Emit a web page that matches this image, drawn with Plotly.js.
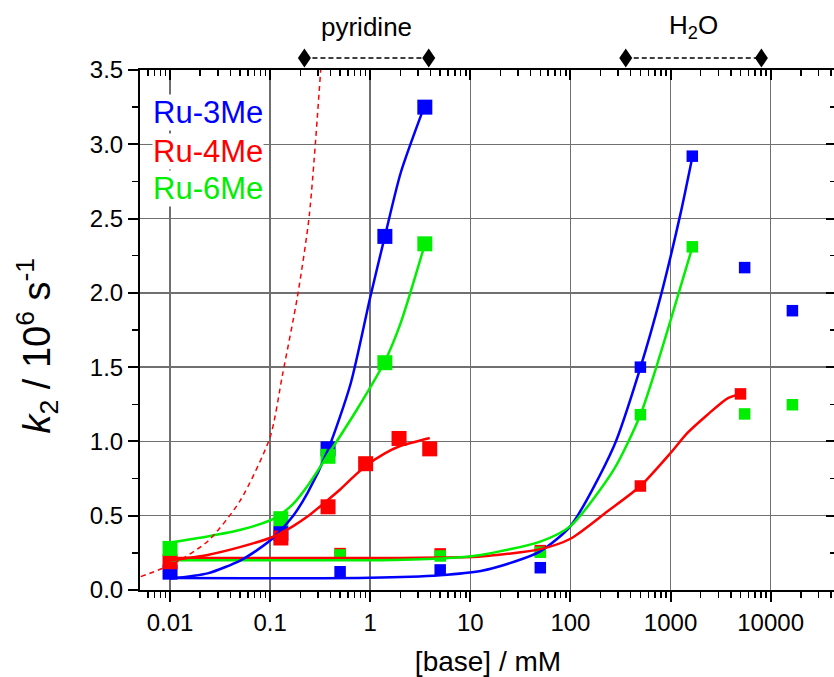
<!DOCTYPE html>
<html><head><meta charset="utf-8">
<script src="https://cdn.plot.ly/plotly-3.0.1.min.js"></script>
<style>html,body{margin:0;padding:0;overflow:hidden;background:#fff}</style>
</head><body><div id="chart" style="width:836px;height:677px"></div>
<script>
// ---------- measured points: pyridine series (large squares) ----------
const pyX3 = [0.01, 0.128, 0.379, 1.40, 3.51];
const pyY3 = [0.12, 0.38, 0.95, 2.38, 3.25];
const pyX4 = [0.01, 0.128, 0.379, 0.90, 1.94, 3.93];
const pyY4 = [0.19, 0.35, 0.56, 0.85, 1.02, 0.95];
const pyX6 = [0.01, 0.128, 0.379, 1.40, 3.51];
const pyY6 = [0.28, 0.48, 0.90, 1.53, 2.33];
// ---------- measured points: water series (small squares) ----------
const wX3 = [0.5, 5, 50, 500, 1650, 5500, 16500];
const wY3 = [0.123, 0.135, 0.150, 1.50, 2.92, 2.17, 1.88];
const wX4 = [0.5, 5, 50, 500, 5000];
const wY4 = [0.245, 0.243, 0.265, 0.70, 1.32];
const wX6 = [0.5, 5, 50, 500, 1650, 5500, 16500];
const wY6 = [0.236, 0.229, 0.254, 1.18, 2.31, 1.185, 1.247];
// ---------- fitted curves ----------
const fpX3 = [0.01, 0.0237, 0.0508, 0.0747, 0.109, 0.17, 0.236, 0.379, 0.638, 1.0, 1.4, 2.02, 3.45];
const fpY3 = [0.078, 0.112, 0.20, 0.27, 0.355, 0.50, 0.652, 0.944, 1.39, 1.97, 2.38, 2.81, 3.25];
const fpX4 = [0.01, 0.0237, 0.0508, 0.109, 0.17, 0.236, 0.346, 0.507, 0.7, 0.937, 1.4, 1.94, 3.93];
const fpY4 = [0.20, 0.236, 0.29, 0.36, 0.43, 0.494, 0.585, 0.68, 0.77, 0.843, 0.92, 0.966, 1.023];
const fpX6 = [0.01, 0.0237, 0.0508, 0.109, 0.17, 0.236, 0.379, 0.745, 1.4, 2.02, 3.45];
const fpY6 = [0.32, 0.36, 0.405, 0.48, 0.58, 0.70, 0.91, 1.22, 1.54, 1.80, 2.31];
const fwX3 = [0.01, 1, 5, 12.7, 27.4, 50, 100, 271, 500, 798, 1265, 1656];
const fwY3 = [0.08, 0.083, 0.10, 0.128, 0.19, 0.26, 0.43, 0.966, 1.497, 1.978, 2.54, 2.918];
const fwX4 = [0.01, 1, 5, 12.7, 50, 100, 233, 500, 1000, 1475, 2340, 3715, 5000];
const fwY4 = [0.215, 0.215, 0.218, 0.225, 0.275, 0.345, 0.528, 0.70, 0.922, 1.057, 1.18, 1.29, 1.32];
const fwX6 = [0.01, 1, 5, 12.7, 50, 100, 271, 500, 798, 1265, 1656];
const fwY6 = [0.20, 0.20, 0.212, 0.236, 0.326, 0.43, 0.81, 1.18, 1.596, 2.045, 2.31];
// red dashed reference curve
const refX = [0.0051, 0.011, 0.024, 0.05, 0.1, 0.133, 0.188, 0.246, 0.32];
const refY = [0.09, 0.18, 0.33, 0.60, 1.03, 1.45, 1.98, 2.52, 3.5];
// concentration ranges shown above the plot
const pyridineRange = [0.22, 3.84];
const waterRange = [357, 8090];
// ticks
const decadeVals = [0.01, 0.1, 1, 10, 100, 1000, 10000];
const decadeText = ['0.01', '0.1', '1', '10', '100', '1000', '10000'];
const seriesNames = ['Ru-3Me', 'Ru-4Me', 'Ru-6Me'];
const colors = ['#0000ff', '#ff0000', '#00ee00'];

const minorVals = [];
for (let e = -3; e <= 4; e++) for (let m = 2; m <= 9; m++) minorVals.push(m * Math.pow(10, e));

const xr = [-2.30, 4.653];
const yr = [0, 3.5];
const toPaperX = v => (Math.log10(v) - xr[0]) / (xr[1] - xr[0]);
const bracketPaperY = 1.023;

const FONT = 'Liberation Sans, Arial, sans-serif';

function pts(x, y, c, size, name) {
  return {x: x, y: y, type: 'scatter', mode: 'markers', name: name,
    marker: {symbol: 'square', size: size, color: c, line: {width: 0}}, hoverinfo: 'x+y'};
}
function fit(x, y, c, name) {
  return {x: x, y: y, type: 'scatter', mode: 'lines', name: name,
    line: {color: c, width: 2.5, shape: 'spline', smoothing: 0.7}, hoverinfo: 'skip'};
}

const traces = [
  pts(pyX3, pyY3, colors[0], 15, seriesNames[0] + ' pyridine'),
  pts(pyX4, pyY4, colors[1], 15, seriesNames[1] + ' pyridine'),
  pts(pyX6, pyY6, colors[2], 15, seriesNames[2] + ' pyridine'),
  pts(wX3, wY3, colors[0], 11.5, seriesNames[0] + ' H2O'),
  pts(wX4, wY4, colors[1], 11.5, seriesNames[1] + ' H2O'),
  pts(wX6, wY6, colors[2], 11.5, seriesNames[2] + ' H2O'),
  fit(fwX3, fwY3, colors[0], 'fit 3Me H2O'),
  fit(fwX4, fwY4, colors[1], 'fit 4Me H2O'),
  fit(fwX6, fwY6, colors[2], 'fit 6Me H2O'),
  fit(fpX3, fpY3, colors[0], 'fit 3Me py'),
  fit(fpX4, fpY4, colors[1], 'fit 4Me py'),
  fit(fpX6, fpY6, colors[2], 'fit 6Me py'),
  {x: refX, y: refY, type: 'scatter', mode: 'lines', name: 'reference',
   line: {color: '#ff0000', width: 1.5, dash: '5px,4px', shape: 'spline', smoothing: 0.7}, hoverinfo: 'skip'},
  {x: [1], y: [1], xaxis: 'x2', yaxis: 'y2', type: 'scatter', mode: 'markers',
   marker: {opacity: 0}, hoverinfo: 'skip', showlegend: false}
];

const minorX = inside => ({tickmode: 'array', tickvals: minorVals, ticks: inside ? 'inside' : 'outside',
  ticklen: 6, tickwidth: 1.5, tickcolor: '#000', showgrid: false});
const minorY = inside => ({dtick: 0.25, ticks: inside ? 'inside' : 'outside', ticklen: 6,
  tickwidth: 1.5, tickcolor: '#000', showgrid: false});

const rangeEnds = pyridineRange.concat(waterRange);
const shapes = [
  {type: 'line', xref: 'paper', yref: 'paper', x0: toPaperX(pyridineRange[0]), x1: toPaperX(pyridineRange[1]),
   y0: bracketPaperY, y1: bracketPaperY, line: {color: '#000', width: 1.5, dash: '5px,3px'}},
  {type: 'line', xref: 'paper', yref: 'paper', x0: toPaperX(waterRange[0]), x1: toPaperX(waterRange[1]),
   y0: bracketPaperY, y1: bracketPaperY, line: {color: '#000', width: 1.5, dash: '5px,3px'}}
].concat(rangeEnds.map(v => ({
  type: 'path', xref: 'paper', yref: 'paper', xsizemode: 'pixel', ysizemode: 'pixel',
  xanchor: toPaperX(v), yanchor: bracketPaperY,
  path: 'M -6.5 0 L 0 9.5 L 6.5 0 L 0 -9.5 Z', fillcolor: '#000', line: {width: 0}
})));

const layout = {
  width: 836, height: 677,
  margin: {l: 140, r: 0, t: 70, b: 87},
  paper_bgcolor: '#fff', plot_bgcolor: '#fff',
  showlegend: false,
  font: {family: FONT, color: '#000', size: 24},
  xaxis: {type: 'log', range: xr, tickmode: 'array', tickvals: decadeVals, ticktext: decadeText,
    ticks: 'outside', ticklen: 10, tickwidth: 2, tickcolor: '#000',
    showline: true, linewidth: 2, linecolor: '#000', mirror: false,
    showgrid: true, gridcolor: '#707070', gridwidth: 1.5, zeroline: false,
    tickfont: {family: FONT, size: 24, color: '#000'}, minor: minorX(false),
    title: {text: '[base] / mM', font: {family: FONT, size: 28, color: '#000'}, standoff: 18}},
  xaxis2: {type: 'log', range: xr, overlaying: 'x', side: 'top', tickmode: 'array', tickvals: decadeVals,
    ticks: 'inside', ticklen: 10, tickwidth: 2, tickcolor: '#000', showticklabels: false,
    showline: true, linewidth: 2, linecolor: '#000', showgrid: false, zeroline: false, minor: minorX(true)},
  yaxis: {range: yr, tick0: 0, dtick: 0.5, tickformat: '.1f',
    ticks: 'outside', ticklen: 10, tickwidth: 2, tickcolor: '#000',
    showline: true, linewidth: 2, linecolor: '#000',
    showgrid: true, gridcolor: '#707070', gridwidth: 1.5, zeroline: false,
    tickfont: {family: FONT, size: 24, color: '#000'}, minor: minorY(false)},
  yaxis2: {range: yr, overlaying: 'y', side: 'right', tick0: 0, dtick: 0.5,
    ticks: 'inside', ticklen: 10, tickwidth: 2, tickcolor: '#000', showticklabels: false,
    showline: true, linewidth: 2, linecolor: '#000', showgrid: false, zeroline: false, minor: minorY(true)},
  shapes: shapes,
  annotations: [
    {text: '<i>k</i><sub>2</sub> / 10<sup>6</sup> s<sup>-1</sup>', xref: 'paper', yref: 'paper',
     showarrow: false, textangle: -90, x: -0.148, y: 0.47, xanchor: 'center', yanchor: 'middle',
     font: {family: FONT, size: 38, color: '#000'}},
    {text: 'pyridine', xref: 'paper', yref: 'paper', showarrow: false,
     x: (toPaperX(pyridineRange[0]) + toPaperX(pyridineRange[1])) / 2, y: 1.083,
     xanchor: 'center', yanchor: 'middle', font: {family: FONT, size: 26, color: '#000'}},
    {text: 'H<sub>2</sub>O', xref: 'paper', yref: 'paper', showarrow: false,
     x: (toPaperX(waterRange[0]) + toPaperX(waterRange[1])) / 2, y: 1.083,
     xanchor: 'center', yanchor: 'middle', font: {family: FONT, size: 26, color: '#000'}},
    {text: seriesNames[0], xref: 'paper', yref: 'paper', showarrow: false, x: 0.017, y: 0.919,
     xanchor: 'left', yanchor: 'middle', bgcolor: '#fff', borderpad: 0, font: {family: FONT, size: 31, color: colors[0]}},
    {text: seriesNames[1], xref: 'paper', yref: 'paper', showarrow: false, x: 0.017, y: 0.844,
     xanchor: 'left', yanchor: 'middle', bgcolor: '#fff', borderpad: 0, font: {family: FONT, size: 31, color: colors[1]}},
    {text: seriesNames[2], xref: 'paper', yref: 'paper', showarrow: false, x: 0.017, y: 0.773,
     xanchor: 'left', yanchor: 'middle', bgcolor: '#fff', borderpad: 0, font: {family: FONT, size: 31, color: colors[2]}}
  ]
};

Plotly.newPlot('chart', traces, layout, {displayModeBar: false, staticPlot: true});
</script>
</body></html>
